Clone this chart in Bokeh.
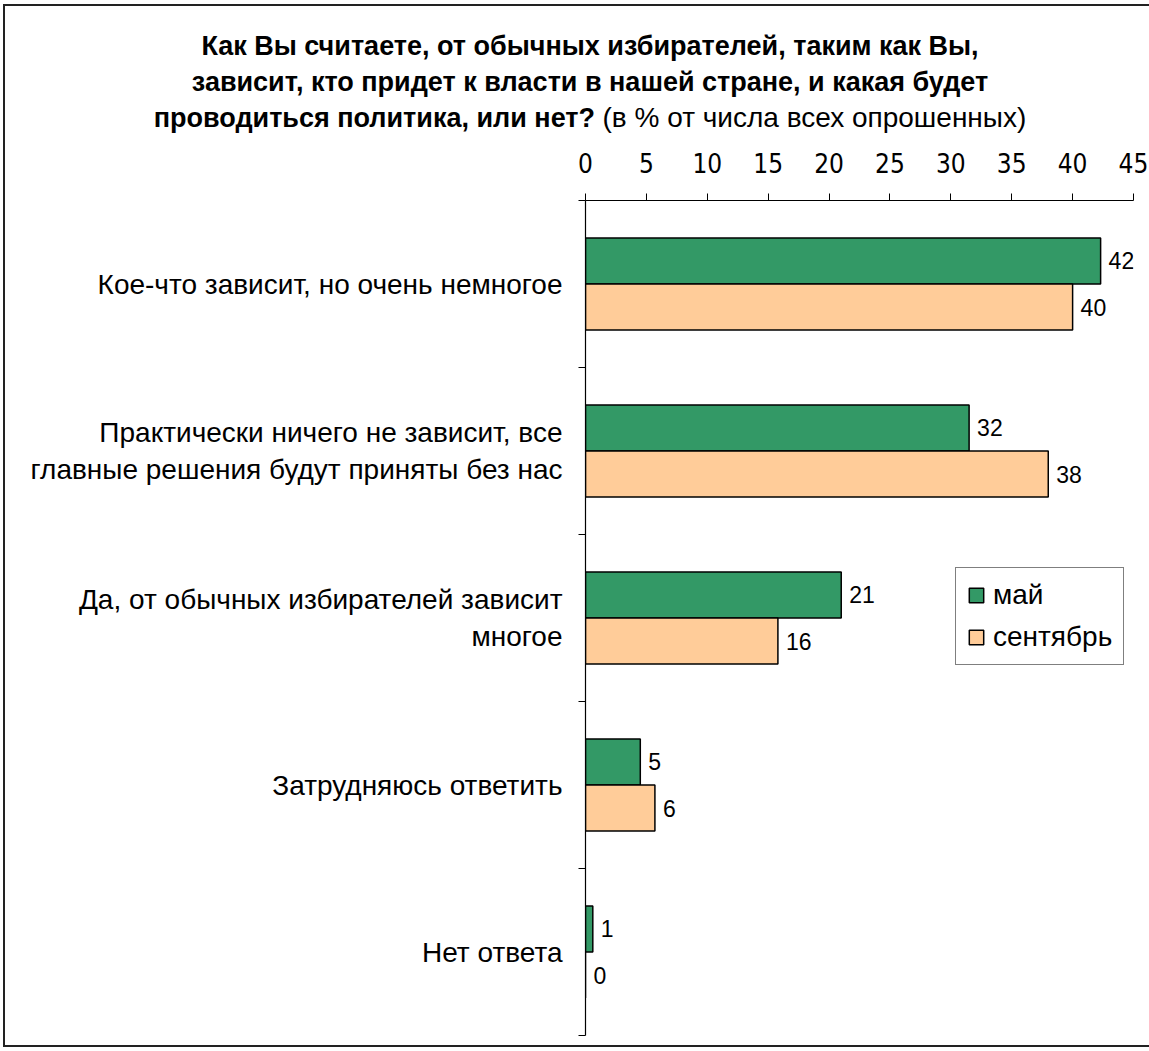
from bokeh.plotting import figure
from bokeh.layouts import column
from bokeh.models import (Range1d, FixedTicker, LabelSet, ColumnDataSource,
                          Legend, LegendItem, Div)
from bokeh.core.properties import value
from bokeh.embed import file_html
from bokeh.resources import INLINE

# ---------------- data ----------------
categories = [
    "Кое-что зависит, но очень немногое",
    "Практически ничего не зависит, все\nглавные решения будут приняты без нас",
    "Да, от обычных избирателей зависит\nмногое",
    "Затрудняюсь ответить",
    "Нет ответа",
]
may = [42.3, 31.5, 21.0, 4.5, 0.6]
september = [40.0, 38.0, 15.8, 5.7, 0.0]
series_names = ["май", "сентябрь"]
x_ticks = [0, 5, 10, 15, 20, 25, 30, 35, 40, 45]
title_line1 = "Как Вы считаете, от обычных избирателей, таким как Вы,"
title_line2 = "зависит, кто придет к власти в нашей стране, и какая будет"
title_line3_bold = "проводиться политика, или нет?"
title_line3_normal = "(в % от числа всех опрошенных)"

# ---------------- styles ----------------
GREEN = "#339966"
PEACH = "#FFCC99"
FONT = "Liberation Sans"
NARROW = "'DejaVu Sans Condensed', 'Liberation Sans'"

n = len(categories)
bar_h = 0.276
centers = [n - 0.5 - i for i in range(n)]
y_may = [c + bar_h / 2 for c in centers]
y_sep = [c - bar_h / 2 for c in centers]

def lbl(vals):
    return [str(int(v + 0.5)) for v in vals]

src_may = ColumnDataSource(dict(y=y_may, v=may, t=lbl(may)))
src_sep = ColumnDataSource(dict(y=y_sep, v=september, t=lbl(september)))

# ---------------- title ----------------
title_html = (
    '<div style="box-sizing:border-box; width:1144px; padding:23px 0 0 26px; '
    'text-align:center; font-family:\'Liberation Sans\', sans-serif; '
    'font-size:27px; line-height:35.5px; color:black; white-space:nowrap;">'
    f'<b>{title_line1}</b><br><b>{title_line2}</b><br>'
    f'<b>{title_line3_bold}</b> <span style="font-size:28px;">{title_line3_normal}</span></div>'
)
title_div = Div(text=title_html, width=1144, height=134, margin=0)

# ---------------- figure ----------------
p = figure(width=1144, height=905,
           x_range=Range1d(0, 45), y_range=Range1d(0, n),
           x_axis_location="above", y_axis_location="left",
           output_backend="svg", toolbar_location=None,
           min_border_left=580, min_border_right=16,
           min_border_top=60, min_border_bottom=10, margin=0)
p.grid.visible = False
p.outline_line_color = None
p.background_fill_color = "white"
p.border_fill_color = "white"

# x axis (top)
xa = p.xaxis[0]
xa.ticker = FixedTicker(ticks=x_ticks)
xa.axis_line_color = "black"
xa.axis_line_width = 1.2
xa.major_tick_out = 7
xa.major_tick_in = 0
xa.major_tick_line_color = "black"
xa.minor_tick_line_color = None
xa.major_label_standoff = 21
xa.major_label_text_font = NARROW
xa.major_label_text_font_size = "26px"
xa.major_label_text_color = "black"

# y axis (left): boundary ticks (minor) + category labels (major)
ya = p.yaxis[0]
ya.ticker = FixedTicker(ticks=centers, minor_ticks=list(range(n + 1)))
ya.major_label_overrides = {c: cat for c, cat in zip(centers, categories)}
ya.axis_line_color = "black"
ya.axis_line_width = 1.2
ya.major_tick_line_color = None
ya.major_tick_out = 0
ya.major_tick_in = 0
ya.minor_tick_out = 7
ya.minor_tick_in = 0
ya.minor_tick_line_color = "black"
ya.major_label_standoff = 16
ya.major_label_text_font = FONT
ya.major_label_text_font_size = "28px"
ya.major_label_text_color = "black"
ya.major_label_text_line_height = 1.2

# bars
r_may = p.hbar(y="y", right="v", left=0, height=bar_h, source=src_may,
               fill_color=GREEN, line_color="black", line_width=1.5)
r_sep = p.hbar(y="y", right="v", left=0, height=bar_h, source=src_sep,
               fill_color=PEACH, line_color="black", line_width=1.5)

# value labels
for src in (src_may, src_sep):
    p.add_layout(LabelSet(x="v", y="y", text="t", source=src, x_offset=8,
                          text_baseline="middle", text_align="left",
                          text_font=value(FONT), text_font_size=value("23px"),
                          text_color="black"))

# legend
legend = Legend(items=[LegendItem(label=series_names[0], renderers=[r_may]),
                       LegendItem(label=series_names[1], renderers=[r_sep])],
                location=(370, 370), orientation="vertical",
                border_line_color="black", border_line_width=1,
                background_fill_color="white", background_fill_alpha=1,
                padding=11, spacing=10, margin=0,
                glyph_width=18, glyph_height=18, label_standoff=8,
                label_text_font=FONT, label_text_font_size="28px",
                label_text_color="black")
p.add_layout(legend)

layout = column(title_div, p, spacing=0, margin=(4, 0, 0, 3),
                styles={"border-left": "2px solid #222",
                        "border-top": "2px solid #222",
                        "border-bottom": "2px solid #222"})

open("out.html", "w").write(file_html(layout, INLINE))
